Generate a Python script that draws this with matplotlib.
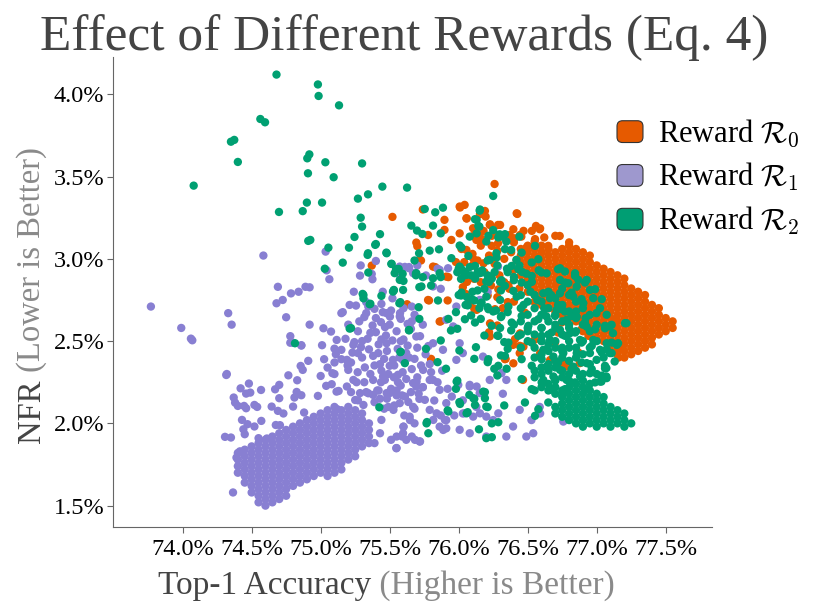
import numpy as np
import matplotlib
matplotlib.use("Agg")
import matplotlib.pyplot as plt
from matplotlib.ticker import FormatStrFormatter
from matplotlib.patches import FancyBboxPatch, Patch
from matplotlib.legend_handler import HandlerPatch

# ################## DATA #######################################################
# (top-1 accuracy %, NFR %) per sampled model

r0_sparse = [
    (75.52, 3.255), (75.37, 2.959), (75.626, 2.724), (75.70, 3.077), (75.785, 2.747), (75.92, 2.747),
    (75.87, 2.62), (75.83, 2.95), (75.925, 2.889), (75.727, 2.99), (75.80, 2.392), (76.03, 2.828),
    (76.05, 2.787), (76.113, 2.696), (76.22, 2.554), (76.28, 2.595), (76.34, 2.392), (76.26, 3.455),
    (75.74, 3.30), (75.897, 3.237), (75.897, 3.176), (76.007, 3.318), (76.043, 3.328), (76.056, 3.247),
    (76.176, 3.277), (76.195, 3.257), (76.225, 3.206), (76.285, 3.206), (76.425, 3.273), (76.587, 3.18),
    (76.732, 3.139), (75.693, 3.099), (75.778, 3.145), (75.947, 3.115), (76.007, 3.155), (76.104, 3.186),
    (76.128, 3.115), (76.056, 3.054), (76.152, 3.135), (76.249, 3.155), (76.285, 3.095), (76.37, 3.145),
    (76.406, 3.125), (76.454, 3.135), (76.49, 3.064), (76.55, 3.105), (75.717, 2.994), (75.814, 2.953),
    (75.91, 2.892), (75.778, 2.75), (75.862, 2.619), (75.80, 2.386), (76.466, 2.264), (76.73, 2.366),
    (76.78, 2.346), (76.877, 2.366), (76.442, 2.427), (76.55, 2.508), (76.394, 2.477), (76.225, 2.528),
    (76.04, 2.98), (76.10, 2.96), (76.137, 2.99), (76.186, 2.919), (76.26, 2.97), (76.295, 2.90),
    (76.33, 2.858), (76.367, 2.818), (76.28, 2.767), (76.21, 2.777), (76.16, 2.747), (76.355, 2.737),
    (76.234, 2.838), (76.16, 2.858), (76.11, 2.879), (76.01, 3.312), (76.058, 3.245), (76.154, 3.271),
    (76.19, 3.291), (76.42, 3.277), (76.227, 3.21), (76.396, 3.18), (76.106, 3.14), (76.166, 3.12),
    (76.372, 3.12), (76.444, 3.14), (76.553, 3.12), (76.239, 3.079), (76.492, 3.069), (76.601, 3.038),
    (76.649, 3.079), (76.408, 2.512), (76.444, 2.471), (76.335, 2.39), (76.263, 2.694), (76.287, 2.815),
    (76.48, 2.673), (76.553, 2.734), (76.746, 2.613), (76.72, 2.552), (76.867, 2.431), (76.77, 2.35),
    (76.698, 2.491), (76.89, 2.572), (76.94, 2.532), (77.157, 2.40), (77.18, 2.451), (77.132, 2.633),
    (76.30, 3.206), (76.444, 3.145), (76.59, 3.185), (76.106, 3.0), (76.18, 2.973), (76.396, 2.932),
    (76.082, 2.73), (76.13, 2.69), (76.227, 2.608), (76.444, 2.547), (76.469, 2.466), (76.59, 2.426),
    (76.758, 2.365), (76.662, 2.385), (76.396, 2.365),
    (76.02, 3.06), (76.10, 3.03), (76.16, 3.08), (76.22, 3.02), (76.28, 3.05), (76.33, 3.00),
    (76.38, 3.04), (76.42, 2.99), (76.40, 3.10), (76.34, 3.12), (76.24, 3.14), (76.18, 3.17),
    (76.47, 3.17), (76.53, 3.17), (76.56, 3.20), (76.62, 3.13), (76.70, 3.14), (76.80, 3.10),
    (75.98, 2.98), (76.06, 2.86), (76.36, 2.84), (76.44, 2.82), (76.40, 2.74), (76.32, 2.70),
]

# dense core of R0: (accuracy, [NFR values]) column by column
r0_core_cols = [
    (76.45, [2.90, 2.94, 2.98, 3.02, 3.06]),
    (76.50, [2.80, 2.84, 2.88, 2.92, 2.96, 3.00, 3.04, 3.08]),
    (76.55, [2.74, 2.78, 2.82, 2.86, 2.90, 2.94, 2.98, 3.02, 3.06]),
    (76.60, [2.72, 2.76, 2.80, 2.84, 2.88, 2.92, 2.96, 3.00, 3.04, 3.08]),
    (76.65, [2.70, 2.74, 2.78, 2.82, 2.86, 2.90, 2.94, 2.98, 3.02, 3.06]),
    (76.70, [2.68, 2.72, 2.76, 2.80, 2.84, 2.88, 2.92, 2.96, 3.00, 3.04]),
    (76.75, [2.66, 2.70, 2.74, 2.78, 2.82, 2.86, 2.90, 2.94, 2.98, 3.02, 3.06]),
    (76.80, [2.64, 2.68, 2.72, 2.76, 2.80, 2.84, 2.88, 2.92, 2.96, 3.00, 3.04, 3.08]),
    (76.85, [2.62, 2.66, 2.70, 2.74, 2.78, 2.82, 2.86, 2.90, 2.94, 2.98, 3.02, 3.06]),
    (76.90, [2.56, 2.60, 2.64, 2.68, 2.72, 2.76, 2.80, 2.84, 2.88, 2.92, 2.96, 3.00, 3.04]),
    (76.95, [2.54, 2.58, 2.62, 2.66, 2.70, 2.74, 2.78, 2.82, 2.86, 2.90, 2.94, 2.98, 3.02]),
    (77.00, [2.52, 2.56, 2.60, 2.64, 2.68, 2.72, 2.76, 2.80, 2.84, 2.88, 2.92, 2.96]),
    (77.05, [2.50, 2.54, 2.58, 2.62, 2.66, 2.70, 2.74, 2.78, 2.82, 2.86, 2.90, 2.94]),
    (77.10, [2.44, 2.48, 2.52, 2.56, 2.60, 2.64, 2.68, 2.72, 2.76, 2.80, 2.84, 2.88, 2.92]),
    (77.15, [2.42, 2.46, 2.50, 2.54, 2.58, 2.62, 2.66, 2.70, 2.74, 2.78, 2.82, 2.86, 2.90]),
    (77.20, [2.40, 2.44, 2.48, 2.52, 2.56, 2.60, 2.64, 2.68, 2.72, 2.76, 2.80, 2.84, 2.88]),
    (77.25, [2.42, 2.46, 2.50, 2.54, 2.58, 2.62, 2.66, 2.70, 2.74, 2.78, 2.82]),
    (77.30, [2.44, 2.48, 2.52, 2.56, 2.60, 2.64, 2.68, 2.72, 2.76, 2.80]),
    (77.35, [2.46, 2.50, 2.54, 2.58, 2.62, 2.66, 2.70, 2.74, 2.78]),
    (77.40, [2.48, 2.52, 2.56, 2.60, 2.64, 2.68, 2.72]),
    (77.45, [2.54, 2.58, 2.62, 2.66, 2.70]),
    (77.50, [2.56, 2.60, 2.64]),
    (77.55, [2.58, 2.62]),
]

r1_sparse = [
    (73.77, 2.71), (73.99, 2.58), (74.06, 2.515), (74.07, 2.505), (74.33, 2.67), (74.355, 2.60),
    (74.32, 2.30), (74.585, 3.02), (74.69, 2.83), (74.68, 2.73), (74.725, 2.75), (74.75, 2.645),
    (74.785, 2.79), (74.84, 2.80), (74.89, 2.83), (74.92, 2.827), (74.92, 2.60), (74.78, 2.53),
    (74.80, 2.49), (74.86, 2.473), (75.036, 3.044), (75.043, 2.93), (75.063, 2.876), (75.02, 2.578),
    (75.075, 2.558), (75.15, 2.67), (75.285, 2.898), (75.37, 2.908), (75.375, 2.876), (75.40, 2.987),
    (75.345, 2.71), (75.116, 2.507), (75.15, 2.447), (75.19, 2.386), (75.20, 2.325), (75.237, 2.477),
    (75.27, 2.427), (75.237, 2.264), (75.285, 2.184), (75.38, 2.264), (75.417, 2.427), (75.478, 2.487),
    (75.478, 2.184), (75.527, 2.082), (75.55, 1.92), (75.60, 1.98), (75.647, 2.02), (75.683, 1.90),
    (75.611, 2.163), (75.67, 2.245), (75.56, 2.295), (75.594, 2.386), (75.502, 2.649), (75.575, 2.67),
    (75.66, 2.71), (75.61, 2.951), (75.64, 2.943), (75.33, 2.67), (75.44, 2.726), (75.466, 2.585),
    (74.316, 2.294), (74.42, 2.213), (74.48, 2.242), (74.49, 2.187), (74.46, 2.181), (74.568, 2.203),
    (74.37, 2.157), (74.38, 2.126), (74.40, 2.106), (74.445, 2.106), (74.46, 2.092), (74.52, 2.112),
    (74.54, 2.10), (74.43, 2.021), (74.47, 1.995), (74.44, 1.964), (74.45, 1.934), (74.52, 1.981),
    (74.57, 2.015), (74.307, 1.918), (74.35, 1.914), (74.55, 1.91), (74.61, 1.908), (74.645, 2.102),
    (74.67, 2.207), (74.70, 2.234), (74.70, 2.153), (74.69, 2.076), (74.73, 2.06), (74.675, 1.99),
    (74.705, 1.989), (74.766, 2.292), (74.78, 2.49), (74.86, 2.475), (74.83, 2.262), (74.826, 2.191),
    (74.86, 2.171), (74.81, 2.157), (74.80, 2.102), (74.855, 2.349), (74.87, 2.325), (74.91, 2.38),
    (75.01, 2.475), (75.025, 2.39), (75.10, 2.454), (75.11, 2.42), (75.10, 2.37), (75.05, 2.339),
    (75.085, 2.305), (75.10, 2.30), (75.00, 2.288), (75.04, 2.228), (75.08, 2.238), (75.13, 2.197),
    (74.98, 2.167), (74.88, 2.066), (74.39, 1.792), (74.415, 1.83), (74.365, 1.58), (75.12, 2.086),
]

r1_middle = [
    (75.16, 2.676), (75.18, 2.514), (75.15, 2.39), (75.195, 2.352), (75.29, 2.96), (75.256, 2.716),
    (75.33, 2.737), (75.39, 2.696), (75.45, 2.676), (75.51, 2.686), (75.316, 2.646), (75.376, 2.595),
    (75.437, 2.615), (75.58, 2.635), (75.63, 2.605), (75.654, 2.575), (75.244, 2.494), (75.292, 2.463),
    (75.34, 2.514), (75.40, 2.554), (75.473, 2.534), (75.52, 2.504), (75.558, 2.453), (75.63, 2.473),
    (75.68, 2.392), (75.727, 2.352), (75.39, 2.352), (75.46, 2.392), (75.533, 2.352), (75.594, 2.311),
    (75.268, 2.311), (75.316, 2.25), (75.22, 2.19), (75.437, 2.25), (75.51, 2.21), (75.58, 2.23),
    (75.654, 2.19), (75.715, 2.149), (75.39, 2.129), (75.46, 2.089), (75.533, 2.109), (75.606, 2.048),
    (75.68, 2.089), (75.80, 2.311), (75.847, 2.25), (75.92, 2.21), (75.823, 2.139), (75.87, 2.048),
    (75.968, 2.048), (75.70, 2.96), (75.763, 2.899), (75.847, 2.94), (75.87, 2.818), (75.64, 2.95),
    (75.58, 2.889), (76.21, 2.80), (75.20, 2.60), (75.23, 2.43), (75.27, 2.56), (75.30, 2.40),
    (75.35, 2.45), (75.36, 2.30), (75.42, 2.48), (75.43, 2.36), (75.48, 2.44), (75.49, 2.30),
    (75.55, 2.56), (75.57, 2.40), (75.60, 2.51), (75.62, 2.27), (75.66, 2.33), (75.70, 2.28),
    (75.74, 2.22), (75.76, 2.42), (75.55, 2.17), (75.48, 2.15), (75.41, 2.20), (75.33, 2.19),
    (75.27, 2.14), (75.60, 2.70), (75.68, 2.66), (75.72, 2.53), (75.78, 2.47), (75.24, 2.80),
    (75.21, 2.72), (75.45, 2.80), (75.52, 2.76), (75.50, 2.60), (75.79, 2.36), (75.88, 2.32),
    (75.115, 2.193), (75.19, 2.224), (75.25, 2.142), (75.31, 2.112), (75.345, 2.183), (75.38, 2.173),
    (75.42, 2.20), (75.43, 2.15), (75.465, 2.264), (75.49, 2.10), (75.44, 2.021), (75.43, 1.94),
    (75.39, 1.88), (75.51, 1.90), (75.55, 1.85), (75.59, 1.92), (75.62, 1.90), (75.66, 1.92),
    (75.72, 1.89), (75.60, 1.98), (75.645, 2.041), (75.68, 2.0), (75.55, 2.20), (75.59, 2.17),
    (75.635, 2.13), (75.67, 2.10), (75.71, 2.18), (75.74, 2.22), (75.755, 2.143), (75.79, 2.082),
    (75.816, 2.021), (75.84, 2.061), (75.90, 2.021), (75.91, 1.97), (75.888, 1.96), (75.95, 2.163),
    (75.997, 2.234), (76.08, 2.234), (76.13, 2.224), (76.03, 2.06), (76.105, 2.041), (76.154, 2.061),
    (76.20, 2.041), (76.287, 2.061), (75.695, 2.254), (75.79, 2.264), (75.548, 1.849), (75.597, 1.94),
    (75.717, 1.89), (75.862, 1.98), (75.91, 2.02), (76.03, 2.14), (76.20, 1.92), (76.25, 2.02),
    (76.32, 2.18), (76.345, 2.264), (76.49, 1.92), (76.54, 1.94), (76.527, 2.02), (76.587, 2.10),
    (76.768, 2.02), (76.08, 2.224), (76.128, 2.10), (75.983, 2.386), (75.886, 2.447), (75.814, 2.487),
    (75.96, 2.589), (75.983, 2.71), (75.91, 2.63), (75.693, 2.528), (75.645, 2.589), (75.573, 2.65),
    (75.476, 2.67), (75.742, 2.325), (75.693, 2.224), (75.814, 2.264), (75.862, 2.204), (75.91, 2.123),
    (75.573, 2.123), (75.50, 2.184), (75.452, 2.285), (75.524, 2.386), (75.62, 2.427), (75.573, 2.953),
    (75.67, 2.913), (75.814, 2.832), (75.862, 2.933), (75.923, 2.943), (76.285, 2.953), (76.152, 2.75),
    (76.007, 2.487), (76.03, 2.427), (76.176, 2.406), (76.225, 2.264), (76.31, 2.305), (76.152, 2.184),
    (76.043, 2.062), (76.007, 1.961), (76.442, 2.082), (76.394, 1.981), (76.345, 1.92), (76.08, 1.94),
    (76.59, 2.06), (76.758, 2.011),
    (75.22, 2.37), (75.26, 2.25), (75.32, 2.34), (75.38, 2.41), (75.44, 2.32), (75.50, 2.35),
    (75.56, 2.25), (75.64, 2.40), (75.70, 2.46), (75.36, 2.55), (75.44, 2.51), (75.58, 2.50),
    (75.28, 2.62), (75.40, 2.64), (75.66, 2.62), (75.74, 2.60), (75.30, 2.50), (75.53, 2.28),
]

r1_blob_cols = [
    (74.40, [1.70, 1.74, 1.78, 1.82]),
    (74.45, [1.64, 1.68, 1.72, 1.76, 1.80, 1.84]),
    (74.50, [1.58, 1.62, 1.66, 1.70, 1.74, 1.78, 1.82, 1.86]),
    (74.55, [1.52, 1.56, 1.60, 1.64, 1.68, 1.72, 1.76, 1.80, 1.84, 1.88]),
    (74.60, [1.50, 1.54, 1.58, 1.62, 1.66, 1.70, 1.74, 1.78, 1.82, 1.86, 1.90]),
    (74.65, [1.52, 1.56, 1.60, 1.64, 1.68, 1.72, 1.76, 1.80, 1.84, 1.88, 1.92]),
    (74.70, [1.54, 1.58, 1.62, 1.66, 1.70, 1.74, 1.78, 1.82, 1.86, 1.90, 1.94]),
    (74.75, [1.56, 1.60, 1.64, 1.68, 1.72, 1.76, 1.80, 1.84, 1.88, 1.92, 1.96]),
    (74.80, [1.62, 1.66, 1.70, 1.74, 1.78, 1.82, 1.86, 1.90, 1.94, 1.98]),
    (74.85, [1.64, 1.68, 1.72, 1.76, 1.80, 1.84, 1.88, 1.92, 1.96, 2.00]),
    (74.90, [1.66, 1.70, 1.74, 1.78, 1.82, 1.86, 1.90, 1.94, 1.98, 2.02]),
    (74.95, [1.68, 1.72, 1.76, 1.80, 1.84, 1.88, 1.92, 1.96, 2.00, 2.04]),
    (75.00, [1.70, 1.74, 1.78, 1.82, 1.86, 1.90, 1.94, 1.98, 2.02, 2.06]),
    (75.05, [1.68, 1.72, 1.76, 1.80, 1.84, 1.88, 1.92, 1.96, 2.00, 2.04, 2.08]),
    (75.10, [1.70, 1.74, 1.78, 1.82, 1.86, 1.90, 1.94, 1.98, 2.02, 2.06, 2.10]),
    (75.15, [1.72, 1.76, 1.80, 1.84, 1.88, 1.92, 1.96, 2.00, 2.04, 2.08]),
    (75.20, [1.78, 1.82, 1.86, 1.90, 1.94, 1.98, 2.02, 2.06, 2.10]),
    (75.25, [1.80, 1.84, 1.88, 1.92, 1.96, 2.00, 2.04, 2.08]),
    (75.30, [1.86, 1.90, 1.94, 1.98, 2.02, 2.06]),
    (75.35, [1.88, 1.92, 1.96, 2.00]),
]

r2_sparse = [
    (74.68, 4.12), (74.98, 4.06), (74.985, 3.99), (75.133, 3.933), (74.563, 3.85), (74.597, 3.83),
    (74.35, 3.712), (74.374, 3.723), (74.40, 3.589), (74.08, 3.445), (74.903, 3.611), (74.918, 3.635),
    (74.908, 3.52), (75.034, 3.587), (75.094, 3.496), (75.30, 3.58), (74.698, 3.285), (74.87, 3.29),
    (74.90, 3.342), (75.01, 3.342), (74.91, 3.109), (74.925, 3.115), (75.056, 3.068), (75.03, 2.94),
    (75.16, 2.977), (75.205, 3.068), (75.245, 3.133), (75.27, 3.366), (75.343, 3.392), (75.447, 3.439),
    (75.626, 3.433), (75.29, 3.25), (75.30, 3.196), (75.34, 3.024), (75.343, 3.034), (75.43, 3.15),
    (75.478, 3.034), (75.40, 3.09), (75.395, 3.085), (75.345, 2.917), (75.31, 2.78), (75.31, 2.76),
    (75.355, 2.724), (75.44, 2.775), (75.21, 2.576), (74.814, 2.487), (75.425, 2.098), (75.514, 2.97),
    (75.546, 2.937), (75.565, 2.939), (75.60, 2.866), (75.53, 2.811), (75.57, 2.73), (75.64, 2.568),
    (75.58, 2.435), (75.61, 2.366), (75.657, 3.202), (75.68, 2.99), (75.69, 2.91), (76.25, 3.382),
]

r2_middle = [
    (75.476, 3.038), (75.512, 2.969), (75.754, 3.303), (75.886, 3.311), (75.83, 3.283), (75.698, 3.172),
    (75.737, 3.151), (75.814, 3.202), (75.87, 3.155), (75.713, 3.034), (75.79, 3.05), (75.857, 3.058),
    (76.007, 3.081), (76.08, 3.135), (76.152, 3.293), (76.13, 3.237), (76.15, 3.196), (76.2, 3.105),
    (76.297, 3.149), (76.345, 3.105), (76.273, 3.034), (76.38, 3.054), (76.44, 3.135), (76.418, 2.994),
    (75.536, 2.913), (75.573, 2.872), (75.524, 2.801), (75.597, 2.811), (75.693, 2.913), (75.73, 2.832),
    (75.814, 2.882), (75.862, 2.913), (75.947, 3.004), (76.007, 2.953), (76.056, 2.902), (76.152, 2.913),
    (76.2, 2.862), (76.225, 2.994), (75.594, 2.909), (75.69, 2.90), (75.74, 2.889), (75.304, 2.787),
    (75.36, 2.727), (75.53, 2.808), (75.577, 2.737), (75.71, 2.706), (75.715, 2.828), (75.80, 2.838),
    (75.87, 2.889), (75.85, 2.747), (75.715, 2.635), (75.64, 2.565), (75.22, 2.579), (75.577, 2.433),
    (75.763, 2.453), (75.847, 2.372), (75.87, 2.504), (75.925, 2.635), (75.944, 2.565), (75.98, 2.676),
    (76.005, 2.443), (75.99, 2.575), (75.908, 2.332), (75.99, 2.26), (76.125, 2.463), (76.113, 2.392),
    (76.21, 2.372), (76.186, 2.534), (76.16, 2.635), (76.09, 2.656), (76.065, 2.717), (76.017, 2.777),
    (76.06, 2.767), (76.113, 2.747), (76.16, 2.727), (76.21, 2.706), (76.27, 2.686), (76.306, 2.646),
    (76.355, 2.676), (76.28, 2.534), (76.33, 2.494), (76.355, 2.453), (76.306, 2.413), (76.38, 2.565),
    (76.258, 2.332), (76.28, 2.291), (76.347, 2.332), (75.99, 2.919), (76.017, 2.878), (76.137, 2.919),
    (76.21, 2.899), (76.28, 2.96), (76.355, 2.919), (76.186, 2.818), (76.137, 2.808), (76.306, 2.808),
    (76.21, 2.99), (75.77, 2.008), (76.065, 2.068), (76.19, 2.19), (76.21, 2.099), (76.33, 2.109),
    (76.113, 2.149), (76.005, 2.129), (75.98, 2.21), (75.92, 2.079), (75.767, 2.0), (75.78, 1.94),
    (75.925, 2.072), (75.985, 2.254), (76.01, 2.118), (76.057, 2.061), (76.077, 2.173), (76.106, 2.153),
    (76.118, 2.112), (76.178, 2.193), (76.19, 2.153), (76.20, 2.102), (76.147, 1.964), (76.24, 2.0),
    (76.20, 1.91), (76.24, 1.916), (76.287, 2.007), (76.154, 3.30), (76.118, 3.241), (76.142, 3.20),
    (76.02, 3.069), (76.07, 3.018), (76.02, 2.937), (76.215, 3.14), (76.287, 3.13), (76.335, 3.15),
    (76.275, 3.008), (76.335, 3.059), (76.456, 3.038), (76.553, 3.079), (76.118, 2.957), (76.166, 2.917),
    (76.215, 2.896), (76.384, 2.957), (76.432, 2.937), (76.529, 2.978), (76.577, 2.998), (76.335, 2.836),
    (76.396, 2.805), (76.456, 2.856), (76.529, 2.896), (76.05, 2.92), (76.09, 2.90), (76.24, 2.88),
    (76.30, 2.86), (76.40, 2.87), (76.46, 2.92), (76.50, 2.84), (76.13, 3.155), (76.25, 3.175),
    (76.32, 3.135),
    (76.00, 2.94), (76.04, 2.90), (76.08, 2.95), (76.12, 2.88), (76.17, 2.93), (76.22, 2.86),
    (76.26, 2.92), (76.31, 2.87), (76.35, 2.94), (76.40, 2.89), (76.44, 2.96), (76.49, 2.91),
    (76.53, 2.86), (76.58, 2.93), (76.00, 2.78), (76.05, 2.72), (76.10, 2.80), (76.15, 2.70),
    (76.20, 2.77), (76.25, 2.68), (76.30, 2.75), (76.36, 2.71), (76.42, 2.77), (76.47, 2.72),
    (76.52, 2.80), (76.57, 2.75), (76.62, 2.70), (76.67, 2.78), (76.72, 2.72), (76.77, 2.68),
    (76.30, 2.58), (76.40, 2.60), (76.50, 2.56), (76.60, 2.58), (76.70, 2.60), (76.80, 2.58),
    (76.85, 2.68), (76.92, 2.64),
]

r2_right = [
    (76.60, 2.917), (76.72, 2.937), (76.77, 2.856), (76.843, 2.896), (76.915, 2.856), (76.818, 2.795),
    (76.89, 2.755), (76.988, 2.815), (77.036, 2.755), (76.02, 2.795), (76.094, 2.755), (76.166, 2.734),
    (76.215, 2.694), (76.045, 2.633), (76.118, 2.613), (76.239, 2.593), (76.31, 2.653), (76.384, 2.613),
    (76.456, 2.653), (76.505, 2.593), (76.577, 2.633), (76.625, 2.694), (76.698, 2.653), (76.746, 2.694),
    (76.818, 2.653), (76.915, 2.613), (76.988, 2.572), (77.06, 2.593), (77.108, 2.491), (77.072, 2.451),
    (76.287, 2.532), (76.36, 2.491), (76.432, 2.532), (76.529, 2.491), (76.601, 2.532), (76.673, 2.552),
    (76.77, 2.532), (76.843, 2.552), (76.89, 2.491), (76.964, 2.471), (77.036, 2.431), (76.215, 2.39),
    (76.287, 2.35), (76.335, 2.41), (76.456, 2.39), (76.529, 2.35), (76.601, 2.39), (76.649, 2.33),
    (76.72, 2.37), (76.818, 2.33), (76.89, 2.37), (76.964, 2.33), (77.036, 2.29), (77.06, 2.35),
    (76.456, 2.269), (76.529, 2.208), (76.601, 2.249), (76.698, 2.269), (76.77, 2.208), (76.843, 2.249),
    (76.94, 2.208), (76.988, 2.249), (76.48, 2.127), (76.577, 2.086), (76.649, 2.127), (76.553, 2.046),
    (76.734, 2.943), (76.77, 2.923), (76.843, 2.912), (76.867, 2.872), (76.927, 2.872), (76.794, 2.852),
    (76.855, 2.831), (76.734, 2.872), (76.637, 2.912), (76.613, 2.791), (76.661, 2.761), (76.734, 2.791),
    (76.83, 2.771), (76.903, 2.73), (76.951, 2.811), (76.975, 2.761), (77.024, 2.70), (77.072, 2.66),
    (77.205, 2.609), (77.108, 2.599), (77.06, 2.578), (76.637, 2.649), (76.71, 2.69), (76.782, 2.629),
    (76.855, 2.649), (76.927, 2.588), (76.806, 2.548), (76.734, 2.568), (76.661, 2.507), (76.879, 2.507),
    (76.975, 2.507), (77.072, 2.487), (77.145, 2.477), (77.024, 2.447), (76.951, 2.427), (76.855, 2.427),
    (76.758, 2.427), (76.686, 2.406), (76.613, 2.447), (76.637, 2.345), (76.734, 2.325), (76.83, 2.345),
    (76.927, 2.366), (76.999, 2.386), (77.108, 2.427), (77.06, 2.335), (77.072, 2.275), (77.024, 2.254),
    (76.613, 2.264), (76.686, 2.285), (76.782, 2.264), (76.879, 2.285), (76.951, 2.305), (76.661, 2.204),
    (76.758, 2.184), (77.215, 2.609), (77.155, 2.487), (77.13, 2.376), (77.095, 2.427), (77.07, 2.336),
    (77.07, 2.285), (77.034, 2.254), (76.998, 2.67), (77.095, 2.589), (77.118, 2.548),
]

# green wedge lying over the lower-left part of the R0 core
r2_wedge_cols = [
    (76.45, [2.46, 2.54, 2.62, 2.70, 2.78]),
    (76.50, [2.50, 2.58, 2.66, 2.74]),
    (76.55, [2.46, 2.54, 2.62, 2.70, 2.78]),
    (76.60, [2.50, 2.58, 2.66, 2.74]),
    (76.65, [2.54, 2.62, 2.70, 2.80]),
    (76.70, [2.50, 2.58, 2.66, 2.76]),
    (76.75, [2.46, 2.54, 2.62, 2.72, 2.82]),
    (76.80, [2.50, 2.60, 2.68, 2.78]),
    (76.85, [2.46, 2.56, 2.64, 2.74]),
    (76.90, [2.50, 2.60, 2.70]),
    (76.95, [2.46, 2.56, 2.66]),
    (77.00, [2.50, 2.60]),
]

# solid green patch above and in the lower-right blob
r2_blob_cols = [
    (76.55, [2.20, 2.28, 2.32, 2.40]),
    (76.60, [2.22, 2.30, 2.34, 2.42, 2.50]),
    (76.65, [2.20, 2.24, 2.32, 2.36, 2.44, 2.48]),
    (76.70, [2.06, 2.10, 2.18, 2.22, 2.26, 2.34, 2.38, 2.46]),
    (76.75, [2.04, 2.08, 2.12, 2.16, 2.20, 2.28, 2.32, 2.40, 2.44]),
    (76.80, [2.02, 2.06, 2.10, 2.14, 2.18, 2.22, 2.26, 2.30, 2.38, 2.46]),
    (76.85, [2.00, 2.04, 2.08, 2.12, 2.16, 2.20, 2.24, 2.32, 2.40]),
    (76.90, [1.98, 2.02, 2.06, 2.10, 2.14, 2.18, 2.22, 2.26, 2.30, 2.42]),
    (76.95, [2.00, 2.04, 2.08, 2.12, 2.16, 2.20, 2.24, 2.36]),
    (77.00, [1.98, 2.02, 2.06, 2.10, 2.14, 2.18, 2.30]),
    (77.05, [2.00, 2.04, 2.08, 2.12, 2.16, 2.40]),
    (77.10, [1.98, 2.02, 2.06, 2.10]),
    (77.15, [2.00, 2.04, 2.08]),
    (77.20, [1.98, 2.02, 2.06]),
    (77.25, [2.00]),
]

series_labels = [r"Reward $\mathcal{R}_0$", r"Reward $\mathcal{R}_1$", r"Reward $\mathcal{R}_2$"]
point_colors = ["#E65A00", "#887FD2", "#00A072"]
key_colors = ["#E65A00", "#9E98CE", "#009E73"]

x_ticks = [74.0, 74.5, 75.0, 75.5, 76.0, 76.5, 77.0, 77.5]
y_ticks = [1.5, 2.0, 2.5, 3.0, 3.5, 4.0]

# ################## PLOT ######################
plt.rcParams['font.family'] = ['Liberation Serif', 'DejaVu Serif']
plt.rcParams['mathtext.fontset'] = 'cm'

dark = "#444444"
light = "#8A8A8A"


def cols_to_points(cols):
    return [(acc, nfr) for acc, nfrs in cols for nfr in nfrs]


fig = plt.figure(figsize=(8.29, 6.12), dpi=100)
ax = fig.add_axes([0.1359, 0.1394, 0.7226, 0.7675])

all_series = [r0_sparse + cols_to_points(r0_core_cols),
              r1_sparse + r1_middle + cols_to_points(r1_blob_cols),
              r2_sparse + r2_middle + r2_right + cols_to_points(r2_wedge_cols) + cols_to_points(r2_blob_cols)]
for pts, col in zip(all_series, point_colors):
    pts = np.array(pts)
    ax.scatter(pts[:, 0], pts[:, 1], s=36, c=col, edgecolors='none', zorder=2)

ax.set_xlim(73.493, 77.833)
ax.set_ylim(1.372, 4.227)
ax.set_xticks(x_ticks)
ax.set_yticks(y_ticks)
ax.xaxis.set_major_formatter(FormatStrFormatter('%.1f%%'))
ax.yaxis.set_major_formatter(FormatStrFormatter('%.1f%%'))
ax.tick_params(axis='both', colors='#666666', labelcolor='black', length=4, width=0.8, labelsize=17.5)
ax.tick_params(axis='x', pad=5)
ax.tick_params(axis='y', pad=2)
for side in ['top', 'right']:
    ax.spines[side].set_visible(False)
for side in ['left', 'bottom']:
    ax.spines[side].set_color('#666666')
    ax.spines[side].set_linewidth(0.8)

fig.text(0.4875, 1 - 50 / 612, "Effect of Different Rewards (Eq. 4)", fontsize=37, color=dark,
         ha='center', va='baseline')

# axis labels in two shades
xl = fig.text(158 / 829, 1 - 594 / 612, "Top-1 Accuracy", fontsize=24, color=dark, ha='left', va='baseline')
ax.annotate(" (Higher is Better)", xy=(1.0, 1 - 594 / 612), xycoords=(xl, 'figure fraction'),
            fontsize=24, color=light, ha='left', va='baseline')
yl = fig.text(40 / 829, 1 - 443 / 612, "NFR", fontsize=23.5, color=dark, rotation=90,
              rotation_mode='anchor', ha='left', va='baseline')
ax.annotate(" (Lower is Better)", xy=(40 / 829, 1.0), xycoords=('figure fraction', yl),
            fontsize=23.5, color=light, rotation=90, rotation_mode='anchor', ha='left', va='baseline')


class RoundKey(HandlerPatch):
    def create_artists(self, legend, orig_handle, xdescent, ydescent, width, height, fontsize, trans):
        box = FancyBboxPatch((-xdescent, -ydescent), width, height,
                             boxstyle="round,pad=0,rounding_size=4",
                             facecolor=orig_handle.get_facecolor(), edgecolor='#333333',
                             linewidth=0.8, transform=trans)
        return [box]


handles = [Patch(facecolor=c) for c in key_colors]
fig.legend(handles, series_labels, loc='upper left', bbox_to_anchor=(617 / 829, 1 - 118 / 612),
           frameon=False, fontsize=22, borderpad=0, borderaxespad=0, handlelength=0.85,
           handleheight=0.72, handletextpad=0.5, labelspacing=0.38,
           handler_map={Patch: RoundKey()})

plt.savefig('out.png', dpi=100)
